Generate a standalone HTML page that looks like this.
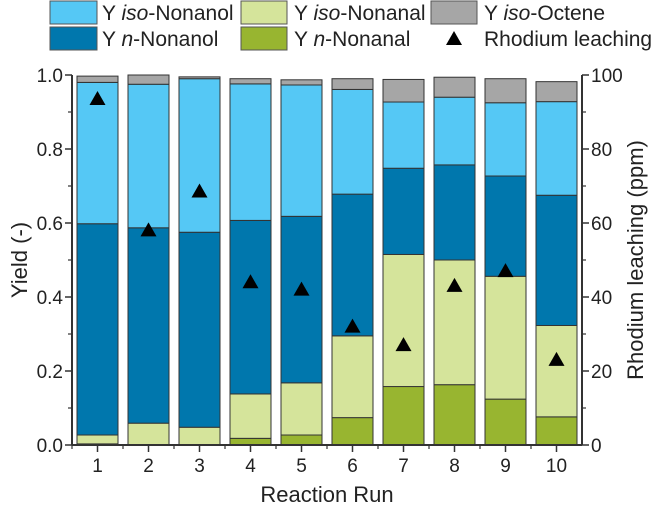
<!DOCTYPE html>
<html><head><meta charset="utf-8"><style>
body{margin:0;background:#fff;}
svg text{font-family:"Liberation Sans",Arial,sans-serif;fill:#222;}
</style></head><body>
<svg id="chart" width="664" height="515" viewBox="0 0 664 515" xmlns="http://www.w3.org/2000/svg">
<g id="legend">
 <g><rect x="50" y="1" width="47" height="23" fill="#55c8f5" stroke="#555"/><text x="102" y="20" font-size="21">Y <tspan font-style="italic">iso</tspan>-Nonanol</text></g>
 <g><rect x="241" y="1" width="46" height="23" fill="#d5e49b" stroke="#555"/><text x="294" y="20" font-size="21">Y <tspan font-style="italic">iso</tspan>-Nonanal</text></g>
 <g><rect x="431" y="1" width="46" height="23" fill="#a6a6a6" stroke="#555"/><text x="484" y="20" font-size="21">Y <tspan font-style="italic">iso</tspan>-Octene</text></g>
 <g><rect x="50" y="27" width="47" height="23" fill="#0077ad" stroke="#555"/><text x="102" y="46" font-size="21">Y <tspan font-style="italic">n</tspan>-Nonanol</text></g>
 <g><rect x="241" y="27" width="46" height="23" fill="#98b530" stroke="#555"/><text x="294" y="46" font-size="21">Y <tspan font-style="italic">n</tspan>-Nonanal</text></g>
 <g><polygon points="454,31 462,45 446,45" fill="#000"/><text x="484" y="46" font-size="21">Rhodium leaching</text></g>
</g>
<g id="bars"></g>
<g id="axes"></g>
<text font-size="22" transform="translate(27,260) rotate(-90)" text-anchor="middle">Yield (-)</text>
<text font-size="22" transform="translate(643,260) rotate(-90)" text-anchor="middle">Rhodium leaching (ppm)</text>
<text font-size="22" x="327" y="502" text-anchor="middle">Reaction Run</text>
</svg>
<script>
const runs=[1,2,3,4,5,6,7,8,9,10];
const nNonanal=[0.003,0,0,0.018,0.027,0.074,0.158,0.163,0.124,0.076];
const isoNonanalTop=[0.027,0.059,0.048,0.138,0.168,0.295,0.515,0.5,0.456,0.323];
const nNonanolTop=[0.598,0.587,0.575,0.607,0.618,0.678,0.748,0.757,0.727,0.675];
const isoNonanolTop=[0.98,0.975,0.99,0.976,0.973,0.961,0.927,0.94,0.925,0.928];
const isoOcteneTop=[0.997,1.0,0.995,0.99,0.987,0.99,0.988,0.994,0.99,0.982];
const rhodium=[93.5,58,68.5,44,42,32,27,43,47,23];
const yTicks=[0,0.2,0.4,0.6,0.8,1.0];
const yTickLabels=["0.0","0.2","0.4","0.6","0.8","1.0"];
const y2Ticks=[0,20,40,60,80,100];

const NS="http://www.w3.org/2000/svg";
const X0=72,X1=582,Y0=445,Y1=75;
const xs=v=>X0+(v-0.5)/10*(X1-X0);
const ys=v=>Y0-v*(Y0-Y1);
const y2s=v=>Y0-v/100*(Y0-Y1);
function mk(tag,attrs,parent){const e=document.createElementNS(NS,tag);for(const k in attrs)e.setAttribute(k,attrs[k]);parent.appendChild(e);return e;}
const bars=document.getElementById('bars'),axes=document.getElementById('axes');
const segs=[["n-nonanal","#98b530"],["iso-nonanal","#d5e49b"],["n-nonanol","#0077ad"],["iso-nonanol","#55c8f5"],["iso-octene","#a6a6a6"]];
const bw=41;
runs.forEach((r,i)=>{
  const tops=[nNonanal[i],isoNonanalTop[i],nNonanolTop[i],isoNonanolTop[i],isoOcteneTop[i]];
  let prev=0;
  tops.forEach((t,j)=>{
    const el=mk('rect',{x:xs(r)-bw/2,y:ys(t),width:bw,height:Math.max(0,ys(prev)-ys(t)),fill:segs[j][1],stroke:'#333','stroke-width':1},bars);
    
    
    prev=t;
  });
  const cx=xs(r),cy=y2s(rhodium[i]);
  const tri=mk('polygon',{points:`${cx},${cy-8} ${cx+8},${cy+6} ${cx-8},${cy+6}`,fill:'#000'},bars);
  
  
});
const la=mk('line',{x1:X0,y1:Y1,x2:X0,y2:Y0,stroke:'#333','stroke-width':2},axes);

const ra=mk('line',{x1:X1,y1:Y1,x2:X1,y2:Y0,stroke:'#333','stroke-width':2},axes);

const xa=mk('line',{x1:X0,y1:Y0,x2:X1,y2:Y0,stroke:'#333','stroke-width':2},axes);

yTicks.forEach((t,i)=>{
  mk('line',{x1:X0-7,y1:ys(t),x2:X0,y2:ys(t),stroke:'#333','stroke-width':1.5},axes);
  if(i<yTicks.length-1)mk('line',{x1:X0-4,y1:ys(t+0.1),x2:X0,y2:ys(t+0.1),stroke:'#333','stroke-width':1.2},axes);
  const tx=mk('text',{x:X0-9,y:ys(t)+7,'font-size':19,'text-anchor':'end'},axes);tx.textContent=yTickLabels[i];
  
});
y2Ticks.forEach((t,i)=>{
  mk('line',{x1:X1,y1:y2s(t),x2:X1+7,y2:y2s(t),stroke:'#333','stroke-width':1.5},axes);
  if(i<y2Ticks.length-1)mk('line',{x1:X1,y1:y2s(t+10),x2:X1+4,y2:y2s(t+10),stroke:'#333','stroke-width':1.2},axes);
  const tx=mk('text',{x:X1+9,y:y2s(t)+7,'font-size':19},axes);tx.textContent=String(t);
  
});
runs.forEach(r=>{
  mk('line',{x1:xs(r),y1:Y0,x2:xs(r),y2:Y0+7,stroke:'#333','stroke-width':1.5},axes);
  mk('line',{x1:xs(r-0.5),y1:Y0,x2:xs(r-0.5),y2:Y0+4,stroke:'#333','stroke-width':1.2},axes);
  const tx=mk('text',{x:xs(r),y:Y0+27,'font-size':19,'text-anchor':'middle'},axes);tx.textContent=String(r);
  
});
</script>
</body></html>
